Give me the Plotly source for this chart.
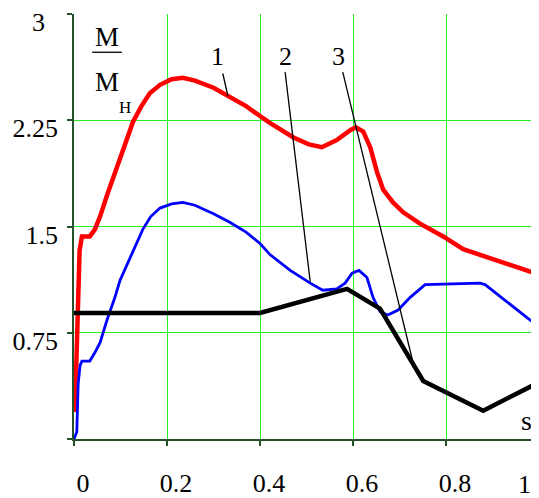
import plotly.graph_objects as go

# ---- data ----
red_s = [0.002, 0.006, 0.012, 0.017, 0.034, 0.045, 0.056, 0.071, 0.088, 0.099, 0.110, 0.127, 0.145,
         0.163, 0.185, 0.210, 0.234, 0.260, 0.300, 0.331, 0.370, 0.400, 0.422, 0.471, 0.505, 0.533,
         0.565, 0.594, 0.606, 0.622, 0.637, 0.652, 0.665, 0.686, 0.708, 0.744, 0.794, 0.837, 0.920, 1.0]
red_v = [0.19, 0.75, 1.33, 1.43, 1.43, 1.48, 1.57, 1.72, 1.88, 1.97, 2.08, 2.24, 2.35,
         2.44, 2.50, 2.54, 2.55, 2.53, 2.48, 2.42, 2.35, 2.28, 2.23, 2.13, 2.08, 2.06,
         2.11, 2.18, 2.20, 2.17, 2.06, 1.88, 1.76, 1.67, 1.60, 1.52, 1.43, 1.34, 1.25, 1.16]

blue_s = [0.0, 0.006, 0.009, 0.013, 0.017, 0.034, 0.045, 0.056, 0.071, 0.088, 0.099, 0.127, 0.148,
          0.165, 0.185, 0.210, 0.234, 0.260, 0.300, 0.335, 0.370, 0.400, 0.422, 0.465, 0.508, 0.535,
          0.565, 0.583, 0.598, 0.613, 0.630, 0.643, 0.658, 0.675, 0.697, 0.723, 0.755, 0.873, 0.884, 1.0]
blue_v = [0.0, 0.05, 0.39, 0.52, 0.55, 0.55, 0.61, 0.68, 0.84, 1.00, 1.12, 1.33, 1.48,
          1.57, 1.63, 1.66, 1.67, 1.65, 1.59, 1.53, 1.46, 1.38, 1.30, 1.19, 1.10, 1.05,
          1.06, 1.10, 1.17, 1.19, 1.14, 1.00, 0.90, 0.875, 0.91, 1.00, 1.09, 1.10, 1.09, 0.79]

black_s = [0.0, 0.40, 0.587, 0.658, 0.751, 0.880, 1.0]
black_v = [0.89, 0.89, 1.06, 0.92, 0.41, 0.20, 0.40]

NB = "\u00a0"
x_ticks = [0, 0.2, 0.4, 0.6, 0.8, 1.0]
x_ticktext = ["0", "0.2", "0.4", "0.6", "0.8", "1"]
y_ticks = [0, 0.75, 1.5, 2.25, 3]
y_ticktext = ["", "0.75", "1.5", "2.25", "3" + NB * 2]

# curve labels and leader lines
label_text = ["1", "2", "3"]
label_s = [0.308, 0.454, 0.568]
label_v = [2.70, 2.70, 2.70]
leader_s0 = [0.320, 0.454, 0.578]
leader_v0 = [2.58, 2.59, 2.59]
leader_s1 = [0.331, 0.508, 0.729]
leader_v1 = [2.42, 1.11, 0.54]

FONT = "Liberation Serif, serif"
GRID = "#22ee22"
AXIS = "#24502a"

fig = go.Figure()
fig.add_trace(go.Scatter(x=red_s, y=red_v, mode="lines",
                         line=dict(color="#ff0000", width=4.5), hoverinfo="skip"))
fig.add_trace(go.Scatter(x=blue_s, y=blue_v, mode="lines",
                         line=dict(color="#0000ff", width=2.8), hoverinfo="skip"))
fig.add_trace(go.Scatter(x=black_s, y=black_v, mode="lines",
                         line=dict(color="#000000", width=4.5), hoverinfo="skip"))
for i in range(len(label_text)):
    fig.add_trace(go.Scatter(x=[leader_s0[i], leader_s1[i]], y=[leader_v0[i], leader_v1[i]],
                             mode="lines", line=dict(color="black", width=1.3), hoverinfo="skip"))
    fig.add_annotation(x=label_s[i], y=label_v[i], text=label_text[i], showarrow=False,
                       font=dict(family=FONT, size=26, color="black"))

# ordinate label  M / Mн
fig.add_annotation(x=0.071, y=2.84, text="M", showarrow=False,
                   font=dict(family=FONT, size=27, color="black"))
fig.add_shape(type="line", x0=0.039, x1=0.103, y0=2.73, y1=2.73,
              line=dict(color="black", width=1.3))
fig.add_annotation(x=0.071, y=2.52, text="M", showarrow=False,
                   font=dict(family=FONT, size=27, color="black"))
fig.add_annotation(x=0.110, y=2.34, text="Н", showarrow=False,
                   font=dict(family=FONT, size=17, color="black"))
fig.add_annotation(x=0.974, y=0.13, text="s", showarrow=False,
                   font=dict(family=FONT, size=28, color="black"))

# last x tick label sits inside the right edge, as in the original
last_tick_text = x_ticktext[-1]
axis_ticktext = x_ticktext[:-1] + [""]
fig.add_annotation(x=x_ticks[-1], xref="x", y=0, yref="paper", yanchor="top", xanchor="right",
                   yshift=-29, xshift=-6, text=last_tick_text, showarrow=False,
                   font=dict(family=FONT, size=26, color="black"))

fig.update_layout(
    width=531, height=490,
    margin=dict(l=66, r=0, t=6, b=59, autoexpand=False),
    paper_bgcolor="white", plot_bgcolor="white",
    showlegend=False,
    font=dict(family=FONT),
    xaxis=dict(range=[0, 1.0], tickvals=x_ticks, ticktext=axis_ticktext, automargin=False,
               showgrid=True, gridcolor=GRID, gridwidth=1, zeroline=False,
               showline=True, linecolor=AXIS, linewidth=1.5,
               ticks="outside", ticklen=5, tickcolor=AXIS, tickwidth=1.5,
               ticklabelshift=9, ticklabelstandoff=15, ticklabeloverflow="allow",
               tickfont=dict(family=FONT, size=26, color="black")),
    yaxis=dict(range=[0, 3], tickvals=y_ticks, ticktext=y_ticktext, automargin=False,
               showgrid=True, gridcolor=GRID, gridwidth=1, zeroline=False,
               showline=True, linecolor=AXIS, linewidth=1.5,
               ticks="outside", ticklen=5, tickcolor=AXIS, tickwidth=1.5,
               ticklabelshift=8, ticklabelstandoff=4, ticklabeloverflow="allow",
               tickfont=dict(family=FONT, size=26, color="black")),
)

fig.write_html("out.html")
